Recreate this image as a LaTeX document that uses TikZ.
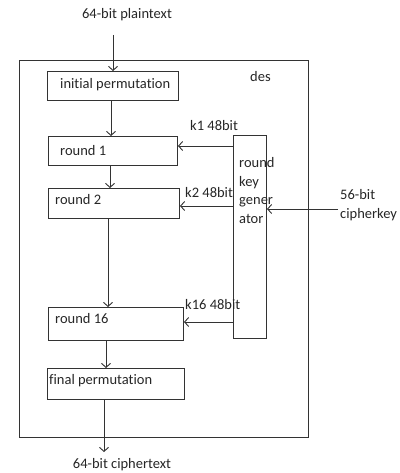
\documentclass[tikz,border=0pt]{standalone}
\usepackage{fontspec}
\setmainfont[Ligatures=NoCommon]{Carlito}
\usetikzlibrary{arrows.meta}
\begin{document}
\begin{tikzpicture}[x=1pt,y=-1pt,
  box/.style={draw=black!80, line width=1pt, rectangle, inner sep=0pt, anchor=north west},
  txt/.style={font=\fontsize{14.5}{18.8}\selectfont, inner sep=0pt, text=black!85, align=left},
  arr/.style={draw=black!80, line width=0.9pt, -{Straight Barb[length=4pt,width=9pt]}},
  ln/.style={draw=black!80, line width=0.9pt}]
\useasboundingbox (0,0) rectangle (399,473);
% outer box
\node[box, minimum width=289, minimum height=377] (des) at (19,60) {};
\node[txt, anchor=west] (deslbl) at (250,77) {des};
% boxes
\node[box, minimum width=131, minimum height=29] (ip) at (47,71) {};
\node[txt, anchor=west] (ipt) at (60,85) {initial permutation};
\node[box, minimum width=129, minimum height=29] (r1) at (48,136) {};
\node[txt, anchor=west] (r1t) at (60,151) {round 1};
\node[box, minimum width=131, minimum height=30] (r2) at (48,188) {};
\node[txt, anchor=west] (r2t) at (55,200) {round 2};
\node[box, minimum width=135, minimum height=33] (r16) at (48,307) {};
\node[txt, anchor=west] (r16t) at (55,319) {round 16};
\node[box, minimum width=137, minimum height=31] (fp) at (47,368) {};
\node[txt, anchor=west] (fpt) at (49,381) {final permutation};
\node[box, minimum width=33, minimum height=203] (kg) at (233,135) {};
\node[txt, anchor=north west] (kgt) at (239,157) {round\\key\\gener\\ator};
% outside texts
\node[txt, anchor=center] (pt) at (127,15) {64-bit plaintext};
\node[txt, anchor=center] (ct) at (122,465) {64-bit ciphertext};
\node[txt, anchor=west] (ck) at (340,205) {56-bit\\cipherkey};
% key labels
\node[txt, anchor=west] (k1) at (190,126) {k1 48bit};
\node[txt, anchor=west] (k2) at (185,193) {k2 48bit};
\node[txt, anchor=west] (k16) at (185,305) {k16 48bit};
% helper coordinates
\coordinate (ptend) at (113,35);
\coordinate (x1) at (111,0);
\coordinate (x2) at (110,0);
\coordinate (x3) at (108,0);
\coordinate (x4) at (106,0);
\coordinate (x5) at (104,0);
\coordinate (ctend) at (104,452);
\coordinate (y1) at (0,146);
\coordinate (y2) at (0,206);
\coordinate (y16) at (0,322);
\coordinate (yk) at (0,209);
\coordinate (ckstart) at (338,209);
% vertical flow
\draw[arr] (ptend) -- (ip.north -| ptend);
\draw[arr] (ip.south -| x1) -- (r1.north -| x1);
\draw[arr] (r1.south -| x2) -- (r2.north -| x2);
\draw[arr] (r2.south -| x3) -- (r16.north -| x3);
\draw[arr] (r16.south -| x4) -- (fp.north -| x4);
\draw[arr] (fp.south -| x5) -- (ctend);
% key arrows
\draw[arr] (kg.west |- y1) -- (r1.east |- y1);
\draw[arr] (kg.west |- y2) -- (r2.east |- y2);
\draw[arr] (kg.west |- y16) -- (r16.east |- y16);
\draw[arr] (ckstart) -- (kg.east |- yk);
\end{tikzpicture}
\end{document}
